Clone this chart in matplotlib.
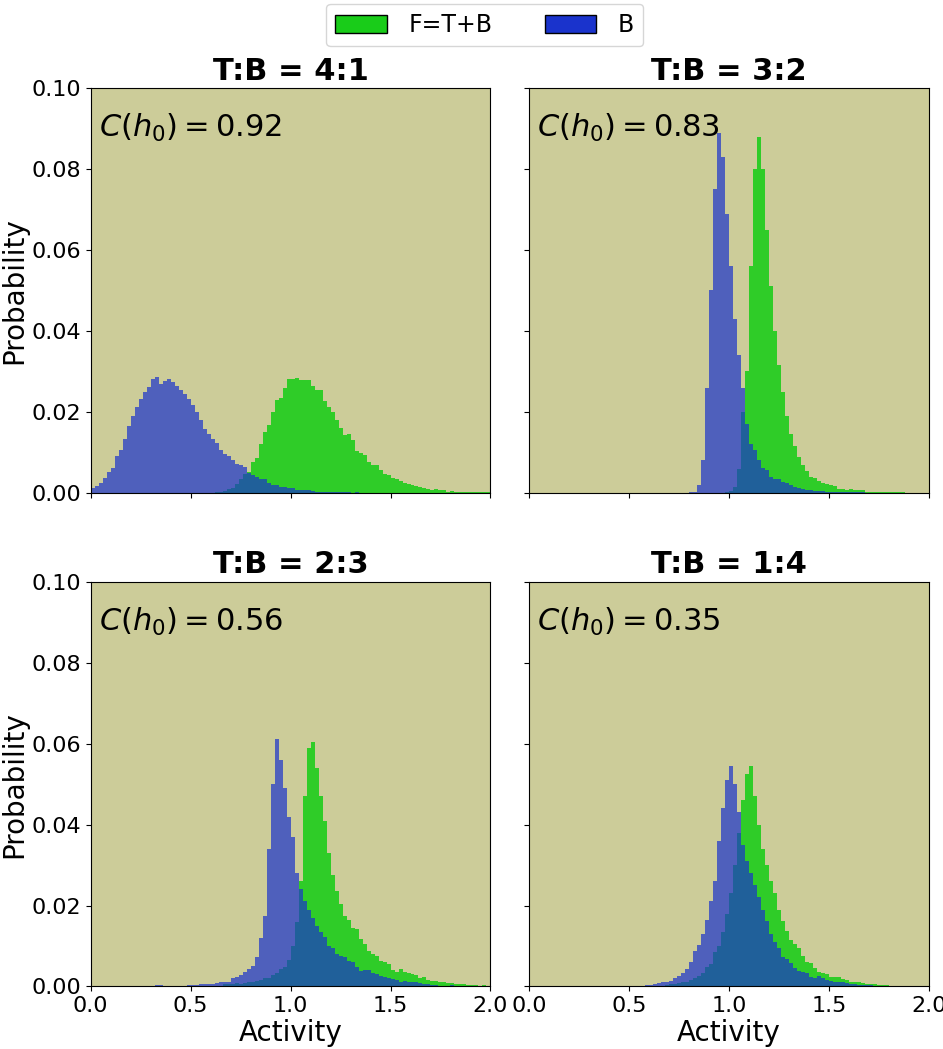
import numpy as np
import matplotlib
matplotlib.use('Agg')
import matplotlib.pyplot as plt
from matplotlib.patches import Patch

# histogram bins (probability per bin, bin width 0.02)
edges = np.linspace(0, 2, 101)
centers = (edges[:-1] + edges[1:]) / 2

titles = ['T:B = 4:1', 'T:B = 3:2', 'T:B = 2:3', 'T:B = 1:4']
coherence = ['0.92', '0.83', '0.56', '0.35']

# each series: first bin start, then bin values
tl_blue_start = 0.00
tl_blue = [0.0012, 0.0018, 0.0025, 0.0036, 0.0051, 0.0062, 0.0090, 0.0105, 0.0132, 0.0165,
           0.0190, 0.0213, 0.0232, 0.0250, 0.0262, 0.0280, 0.0285, 0.0268, 0.0277, 0.0282,
           0.0275, 0.0265, 0.0255, 0.0245, 0.0232, 0.0218, 0.0200, 0.0180, 0.0158, 0.0146,
           0.0132, 0.0124, 0.0105, 0.0096, 0.0092, 0.0082, 0.0072, 0.0068, 0.0063, 0.0048,
           0.0044, 0.0040, 0.0034, 0.0034, 0.0024, 0.0020, 0.0020, 0.0015, 0.0015, 0.0013,
           0.0011, 0.0007, 0.0007, 0.0008, 0.0007, 0.0005, 0.0003, 0.0002, 0.0002, 0.0002,
           0.0001, 0.0002, 0.0001, 0.0002, 0.0001, 0.0000, 0.0001]
tl_green_start = 0.62
tl_green = [0.0002, 0.0003, 0.0004, 0.0010, 0.0013, 0.0022, 0.0035, 0.0046, 0.0052, 0.0075,
            0.0085, 0.0120, 0.0150, 0.0168, 0.0200, 0.0230, 0.0235, 0.0260, 0.0280, 0.0280,
            0.0284, 0.0278, 0.0278, 0.0278, 0.0265, 0.0255, 0.0253, 0.0228, 0.0212, 0.0200,
            0.0180, 0.0160, 0.0143, 0.0145, 0.0130, 0.0104, 0.0099, 0.0094, 0.0077, 0.0069,
            0.0068, 0.0056, 0.0046, 0.0044, 0.0036, 0.0033, 0.0028, 0.0024, 0.0021, 0.0020,
            0.0017, 0.0015, 0.0013, 0.0010, 0.0006, 0.0009, 0.0008, 0.0006, 0.0003, 0.0004,
            0.0003, 0.0002, 0.0002, 0.0002, 0.0001, 0.0002, 0.0002, 0.0001, 0.0002]

tr_blue_start = 0.80
tr_blue = [0.0001, 0.0003, 0.0020, 0.0080, 0.0260, 0.0500, 0.0750, 0.0890, 0.0830, 0.0690,
           0.0560, 0.0430, 0.0340, 0.0260, 0.0170, 0.0120, 0.0105, 0.0082, 0.0062, 0.0056,
           0.0040, 0.0035, 0.0033, 0.0027, 0.0023, 0.0019, 0.0015, 0.0011, 0.0009, 0.0008,
           0.0008, 0.0005, 0.0005, 0.0005, 0.0003, 0.0003, 0.0003, 0.0003, 0.0002, 0.0001,
           0.0002, 0.0001, 0.0001, 0.0002]
tr_green_start = 0.98
tr_green = [0.0002, 0.0005, 0.0015, 0.0060, 0.0200, 0.0300, 0.0560, 0.0800, 0.0880, 0.0800,
            0.0650, 0.0510, 0.0400, 0.0315, 0.0250, 0.0190, 0.0145, 0.0115, 0.0088, 0.0068,
            0.0055, 0.0040, 0.0036, 0.0029, 0.0025, 0.0022, 0.0019, 0.0016, 0.0010, 0.0009,
            0.0008, 0.0009, 0.0006, 0.0006, 0.0006, 0.0003, 0.0003, 0.0003, 0.0003, 0.0003,
            0.0002, 0.0002, 0.0001, 0.0002, 0.0001]

bl_blue_start = 0.00
bl_blue = [0.0000, 0.0001, 0.0002, 0.0000, 0.0001, 0.0000, 0.0001, 0.0002, 0.0001, 0.0002,
           0.0002, 0.0001, 0.0002, 0.0002, 0.0002, 0.0002, 0.0003, 0.0003, 0.0002, 0.0002,
           0.0002, 0.0002, 0.0002, 0.0002, 0.0003, 0.0003, 0.0003, 0.0005, 0.0006, 0.0006,
           0.0006, 0.0008, 0.0012, 0.0012, 0.0012, 0.0020, 0.0024, 0.0028, 0.0035, 0.0043,
           0.0050, 0.0072, 0.0120, 0.0175, 0.0340, 0.0500, 0.0612, 0.0560, 0.0490, 0.0420,
           0.0370, 0.0280, 0.0240, 0.0212, 0.0190, 0.0170, 0.0150, 0.0135, 0.0122, 0.0100,
           0.0095, 0.0080, 0.0075, 0.0072, 0.0062, 0.0060, 0.0047, 0.0038, 0.0040, 0.0041,
           0.0033, 0.0030, 0.0026, 0.0024, 0.0021, 0.0018, 0.0015, 0.0012, 0.0013, 0.0012,
           0.0010, 0.0011, 0.0009, 0.0007, 0.0006, 0.0004, 0.0004, 0.0002, 0.0002, 0.0002,
           0.0003, 0.0002, 0.0002, 0.0002, 0.0001, 0.0001, 0.0002, 0.0001, 0.0001, 0.0001]
bl_green_start = 0.00
bl_green = [0.0000, 0.0000, 0.0000, 0.0002, 0.0000, 0.0000, 0.0002, 0.0000, 0.0000, 0.0000,
            0.0000, 0.0002, 0.0000, 0.0000, 0.0000, 0.0000, 0.0000, 0.0000, 0.0000, 0.0000,
            0.0000, 0.0000, 0.0000, 0.0000, 0.0000, 0.0002, 0.0002, 0.0000, 0.0000, 0.0001,
            0.0001, 0.0002, 0.0002, 0.0005, 0.0005, 0.0006, 0.0008, 0.0005, 0.0008, 0.0010,
            0.0010, 0.0014, 0.0015, 0.0020, 0.0022, 0.0028, 0.0034, 0.0043, 0.0048, 0.0065,
            0.0100, 0.0160, 0.0260, 0.0470, 0.0590, 0.0605, 0.0540, 0.0470, 0.0410, 0.0330,
            0.0275, 0.0235, 0.0205, 0.0175, 0.0165, 0.0145, 0.0143, 0.0117, 0.0105, 0.0087,
            0.0080, 0.0075, 0.0062, 0.0061, 0.0055, 0.0041, 0.0036, 0.0042, 0.0035, 0.0033,
            0.0030, 0.0028, 0.0021, 0.0023, 0.0015, 0.0014, 0.0014, 0.0012, 0.0011, 0.0009,
            0.0009, 0.0007, 0.0007, 0.0005, 0.0004, 0.0004, 0.0004, 0.0002, 0.0003, 0.0002]

br_blue_start = 0.56
br_blue = [0.0002, 0.0003, 0.0003, 0.0007, 0.0008, 0.0010, 0.0012, 0.0013, 0.0020, 0.0025,
           0.0033, 0.0043, 0.0060, 0.0088, 0.0103, 0.0130, 0.0165, 0.0210, 0.0260, 0.0360,
           0.0440, 0.0510, 0.0545, 0.0500, 0.0430, 0.0350, 0.0310, 0.0280, 0.0250, 0.0220,
           0.0188, 0.0163, 0.0130, 0.0110, 0.0094, 0.0073, 0.0068, 0.0058, 0.0046, 0.0038,
           0.0035, 0.0034, 0.0024, 0.0022, 0.0025, 0.0021, 0.0015, 0.0014, 0.0011, 0.0012,
           0.0011, 0.0008, 0.0007, 0.0006, 0.0004, 0.0004, 0.0004, 0.0003, 0.0002, 0.0002,
           0.0002, 0.0002, 0.0001, 0.0001, 0.0001, 0.0001, 0.0001, 0.0001]
br_green_start = 0.56
br_green = [0.0002, 0.0002, 0.0002, 0.0002, 0.0002, 0.0002, 0.0004, 0.0005, 0.0006, 0.0008,
            0.0011, 0.0012, 0.0016, 0.0022, 0.0026, 0.0033, 0.0048, 0.0055, 0.0086, 0.0100,
            0.0135, 0.0180, 0.0230, 0.0300, 0.0380, 0.0460, 0.0525, 0.0546, 0.0470, 0.0400,
            0.0340, 0.0300, 0.0260, 0.0230, 0.0190, 0.0163, 0.0138, 0.0115, 0.0105, 0.0095,
            0.0075, 0.0061, 0.0058, 0.0045, 0.0037, 0.0034, 0.0030, 0.0023, 0.0024, 0.0023,
            0.0018, 0.0016, 0.0010, 0.0012, 0.0012, 0.0009, 0.0007, 0.0006, 0.0005, 0.0004,
            0.0004, 0.0003, 0.0002, 0.0002, 0.0002, 0.0002, 0.0002, 0.0002, 0.0001, 0.0002,
            0.0002, 0.0002]


def full(start, vals):
    out = np.zeros(len(centers))
    i = int(round(start / 0.02))
    out[i:i + len(vals)] = vals
    return out


panels = [
    (full(tl_green_start, tl_green), full(tl_blue_start, tl_blue)),
    (full(tr_green_start, tr_green), full(tr_blue_start, tr_blue)),
    (full(bl_green_start, bl_green), full(bl_blue_start, bl_blue)),
    (full(br_green_start, br_green), full(br_blue_start, br_blue)),
]

green = '#19cc19'
blue = '#1a33cc'
bg = '#cccc99'

fig, axes = plt.subplots(2, 2, figsize=(9.43, 10.49), dpi=100, sharex=True, sharey=True)
fig.subplots_adjust(left=0.096, right=0.985, top=0.916, bottom=0.0596, wspace=0.096, hspace=0.22)

for k, ax in enumerate(axes.flat):
    g, b = panels[k]
    ax.set_facecolor(bg)
    ax.hist(centers, bins=edges, weights=g, histtype='stepfilled', color=green, alpha=0.88, lw=0)
    ax.hist(centers, bins=edges, weights=b, histtype='stepfilled', color=blue, alpha=0.7, lw=0)
    ax.set_title(titles[k], fontsize=22, fontweight='bold')
    ax.text(0.02, 0.94, r'$C(h_0) = %s$' % coherence[k], transform=ax.transAxes,
            ha='left', va='top', fontsize=22)
    ax.tick_params(labelsize=16)

ax = axes[0, 0]
ax.set_xlim(0, 2)
ax.set_ylim(0, 0.1)
ax.set_yticks(np.arange(0, 0.101, 0.02))
ax.set_xticks([0.0, 0.5, 1.0, 1.5, 2.0])
ax.yaxis.set_major_formatter(plt.FormatStrFormatter('%.2f'))
ax.xaxis.set_major_formatter(plt.FormatStrFormatter('%.1f'))

for a in axes[:, 0]:
    a.set_ylabel('Probability', fontsize=20, labelpad=2)
for a in axes[1, :]:
    a.set_xlabel('Activity', fontsize=20, labelpad=2)

handles = [Patch(facecolor=green, edgecolor='black', label='F=T+B'),
           Patch(facecolor=blue, edgecolor='black', label='B')]
fig.legend(handles=handles, loc='upper center', bbox_to_anchor=(0.514, 1.0), ncol=2,
           fontsize=17, handlelength=2.2, handleheight=0.8, handletextpad=0.9,
           columnspacing=2.2, borderaxespad=0.15)

plt.savefig('out.png', dpi=100)
